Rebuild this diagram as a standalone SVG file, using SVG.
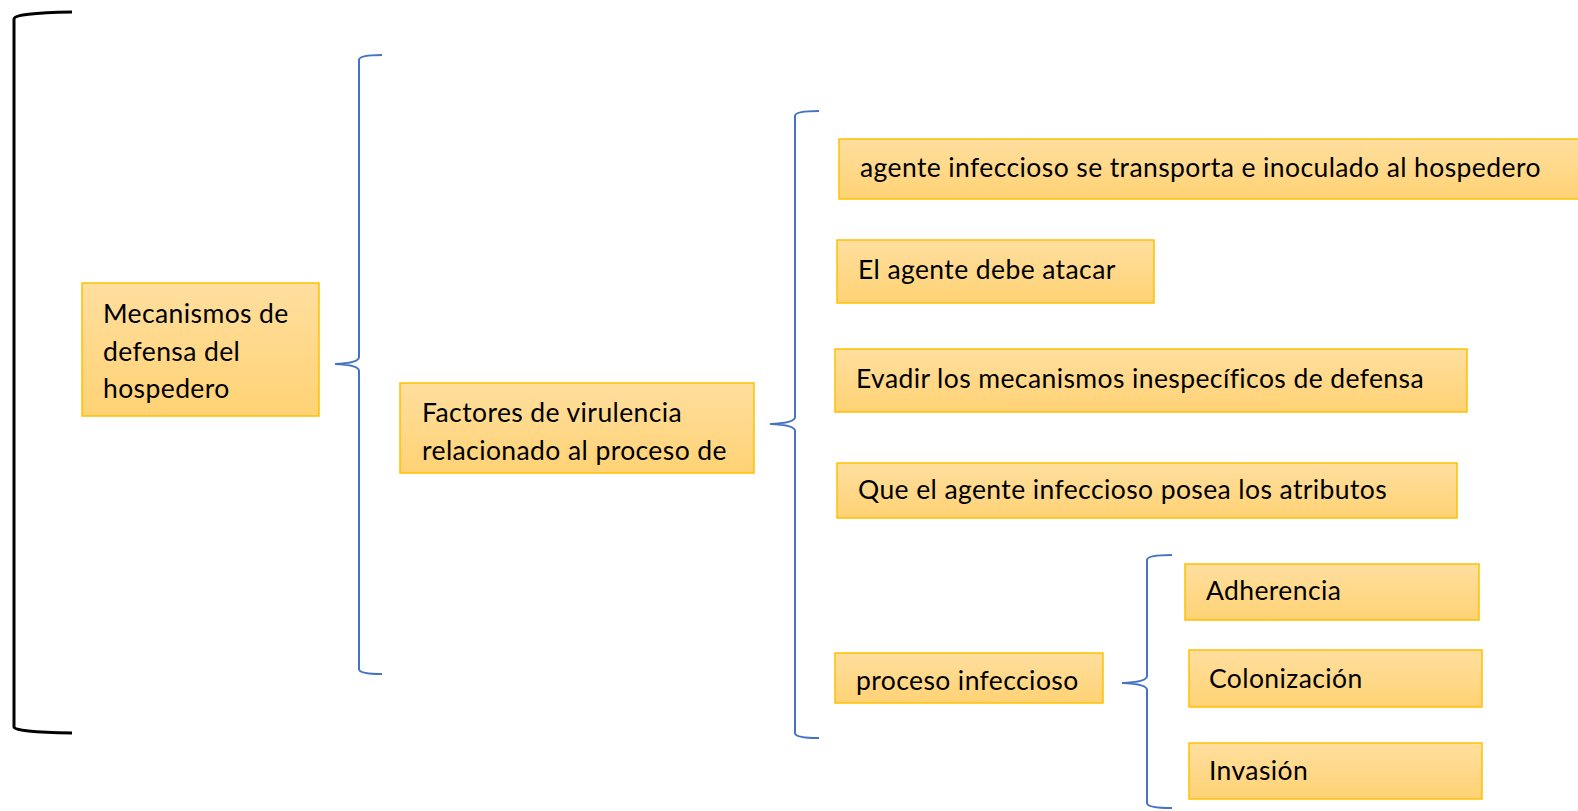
<svg xmlns="http://www.w3.org/2000/svg" width="1578" height="811" viewBox="0 0 1578 811">
<style>
.box{fill:url(#g);stroke:#FFC000;stroke-width:1.5}
.t{font-family:Lato,"Liberation Sans",sans-serif;font-size:26.5px;letter-spacing:0.4px;fill:#000}
.br{fill:none;stroke:#4472C4;stroke-width:2}
</style>
<defs>
<linearGradient id="g" x1="0" y1="0" x2="0" y2="1">
<stop offset="0" stop-color="#FFDF9F"/>
<stop offset="1" stop-color="#FFD274"/>
</linearGradient>
</defs>
<rect width="1578" height="811" fill="#fff"/>
<g id="connectors">
<path d="M72,12 Q14,13 14,19 L14,727 Q14,732 72,733" fill="none" stroke="#000" stroke-width="3"/>
<path class="br" d="M382,55 Q359,55 359,60 L359,357 Q359,363 335,364 Q359,365 359,371 L359,669 Q359,674 382,674"/>
<path class="br" d="M819,111 Q795,111 795,116 L795,417 Q795,423 770,424 Q795,425 795,431 L795,733 Q795,738 819,738"/>
<path class="br" d="M1172,555 Q1147,555 1147,560 L1147,676 Q1147,682 1122,683 Q1147,684 1147,690 L1147,803 Q1147,808 1172,808"/>
</g>
<g id="n1"><rect class="box" x="82" y="283" width="237" height="133"/>
<text class="t" x="103" y="323">Mecanismos de</text><text class="t" x="103" y="361">defensa del</text><text class="t" x="103" y="398">hospedero</text></g>
<g id="n2"><rect class="box" x="400" y="383" width="354" height="90"/>
<text class="t" x="422" y="422">Factores de virulencia</text><text class="t" x="422" y="460">relacionado al proceso de</text></g>
<g id="n3"><rect class="box" x="839" y="139" width="740" height="60"/>
<text class="t" x="860" y="177">agente infeccioso se transporta e inoculado al hospedero</text></g>
<g id="n4"><rect class="box" x="837" y="240" width="317" height="63"/>
<text class="t" x="858" y="279">El agente debe atacar</text></g>
<g id="n5"><rect class="box" x="835" y="349" width="632" height="63"/>
<text class="t" x="856" y="388">Evadir los mecanismos inespecíficos de defensa</text></g>
<g id="n6"><rect class="box" x="837" y="463" width="620" height="55"/>
<text class="t" x="858" y="499">Que el agente infeccioso posea los atributos</text></g>
<g id="n7"><rect class="box" x="835" y="653" width="268" height="50"/>
<text class="t" x="856" y="690">proceso infeccioso</text></g>
<g id="n8"><rect class="box" x="1185" y="564" width="294" height="56"/>
<text class="t" x="1206" y="600">Adherencia</text></g>
<g id="n9"><rect class="box" x="1189" y="650" width="293" height="57"/>
<text class="t" x="1209" y="688">Colonización</text></g>
<g id="n10"><rect class="box" x="1189" y="743" width="293" height="56"/>
<text class="t" x="1209" y="780">Invasión</text></g>
</svg>
